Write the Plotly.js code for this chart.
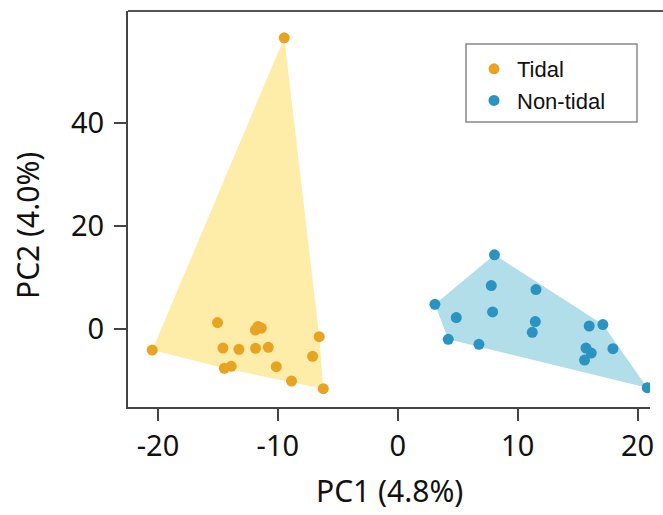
<!DOCTYPE html>
<html>
<head>
<meta charset="utf-8">
<script src="https://cdn.plot.ly/plotly-3.0.1.min.js"></script>
<style>html,body{margin:0;padding:0;background:#fff;}#chart{width:663px;height:515px;}</style>
</head>
<body>
<div id="chart"></div>
<script>
// Tidal samples (PC1, PC2)
const tidalPC1 = [-9.47, -20.48, -6.21, -15.03, -11.66, -11.38, -11.88, -6.55, -14.58, -13.25, -11.86, -10.80, -7.10, -13.89, -14.47, -10.13, -8.86];
const tidalPC2 = [56.5, -4.02, -11.5, 1.3, 0.52, 0.25, -0.14, -1.42, -3.63, -3.88, -3.69, -3.5, -5.24, -7.18, -7.57, -7.24, -10.04];
// Non-tidal samples (PC1, PC2)
const nontidalPC1 = [8.07, 7.80, 11.53, 3.10, 4.88, 7.91, 11.47, 11.22, 15.97, 17.11, 4.21, 6.77, 15.70, 16.14, 17.95, 15.58, 20.81];
const nontidalPC2 = [14.43, 8.48, 7.7, 4.85, 2.27, 3.36, 1.49, -0.58, 0.64, 0.91, -1.94, -2.91, -3.63, -4.6, -3.75, -5.96, -11.32];

const groupNames = ["Tidal", "Non-tidal"];
const xTickVals = [-20, -10, 0, 10, 20];
const xTickText = ["-20", "-10", "0", "10", "20"];
const yTickVals = [0, 20, 40];
const yTickText = ["0", "20", "40"];

function hull(xs, ys) {
  const pts = xs.map((x, i) => [x, ys[i]]).sort((a, b) => a[0] - b[0] || a[1] - b[1]);
  const cross = (o, a, b) => (a[0] - o[0]) * (b[1] - o[1]) - (a[1] - o[1]) * (b[0] - o[0]);
  const lower = [], upper = [];
  for (const p of pts) { while (lower.length >= 2 && cross(lower[lower.length - 2], lower[lower.length - 1], p) <= 0) lower.pop(); lower.push(p); }
  for (let i = pts.length - 1; i >= 0; i--) { const p = pts[i]; while (upper.length >= 2 && cross(upper[upper.length - 2], upper[upper.length - 1], p) <= 0) upper.pop(); upper.push(p); }
  const h = lower.slice(0, -1).concat(upper.slice(0, -1));
  h.push(h[0]);
  return { x: h.map(p => p[0]), y: h.map(p => p[1]) };
}

const tColor = "#E9A323", tFill = "#FEECA9";
const nColor = "#2A93C2", nFill = "#B1DEE9";
const th = hull(tidalPC1, tidalPC2);
const nh = hull(nontidalPC1, nontidalPC2);

const data = [
  { x: th.x, y: th.y, type: "scatter", mode: "lines", line: { width: 0, color: tFill }, fill: "toself", fillcolor: tFill, showlegend: false, hoverinfo: "skip" },
  { x: nh.x, y: nh.y, type: "scatter", mode: "lines", line: { width: 0, color: nFill }, fill: "toself", fillcolor: nFill, showlegend: false, hoverinfo: "skip" },
  { x: tidalPC1, y: tidalPC2, type: "scatter", mode: "markers", name: groupNames[0], marker: { color: tColor, size: 11 } },
  { x: nontidalPC1, y: nontidalPC2, type: "scatter", mode: "markers", name: groupNames[1], marker: { color: nColor, size: 11 } }
];

const tickFont = { family: "Noto Sans, Open Sans, sans-serif", size: 29, color: "#111" };
const layout = {
  width: 663, height: 515,
  margin: { l: 128, r: 13, t: 11, b: 108 },
  paper_bgcolor: "#fff", plot_bgcolor: "#fff",
  showlegend: true,
  legend: {
    x: (471 - 128) / 522, y: (407 - 48) / 396, xanchor: "left", yanchor: "top",
    borderwidth: 0, bgcolor: "rgba(0,0,0,0)",
    font: { family: "Liberation Sans, Arial, sans-serif", size: 22, color: "#111" },
    tracegroupgap: 0, itemwidth: 36
  },
  xaxis: {
    range: [-22.5, 21.04], showgrid: false, zeroline: false,
    showline: true, linecolor: "#444", linewidth: 2,
    ticks: "outside", ticklen: 12, tickwidth: 2, tickcolor: "#444",
    tickvals: xTickVals, ticktext: xTickText, tickfont: tickFont
  },
  yaxis: {
    range: [-15.06, 61.7], showgrid: false, zeroline: false,
    showline: true, linecolor: "#444", linewidth: 2,
    ticks: "outside", ticklen: 12, tickwidth: 2, tickcolor: "#444",
    tickvals: yTickVals, ticktext: yTickText, tickfont: tickFont,
    ticklabelstandoff: 4
  },
  shapes: [
    { type: "line", xref: "paper", yref: "paper", x0: 0, x1: (663 - 128) / 522, y0: 1, y1: 1, line: { color: "#555", width: 2 } },
    { type: "rect", xref: "paper", yref: "paper", x0: (466 - 128) / 522, x1: (637 - 128) / 522, y0: (407 - 122) / 396, y1: (407 - 44) / 396, fillcolor: "#fff", line: { color: "#888", width: 1.5 } }
  ],
  annotations: [
    { text: "PC1 (4.8%)", xref: "paper", yref: "paper", x: (389 - 128) / 522, y: (407 - 490) / 396, xanchor: "center", yanchor: "middle", showarrow: false, font: { family: "Noto Sans, Open Sans, sans-serif", size: 30, color: "#111" } },
    { text: "PC2 (4.0%)", xref: "paper", yref: "paper", x: (27 - 128) / 522, y: (407 - 226) / 396, xanchor: "center", yanchor: "middle", textangle: -90, showarrow: false, font: { family: "Noto Sans, Open Sans, sans-serif", size: 30, color: "#111" } }
  ]
};

Plotly.newPlot("chart", data, layout, { displayModeBar: false, staticPlot: true });
</script>
</body>
</html>
